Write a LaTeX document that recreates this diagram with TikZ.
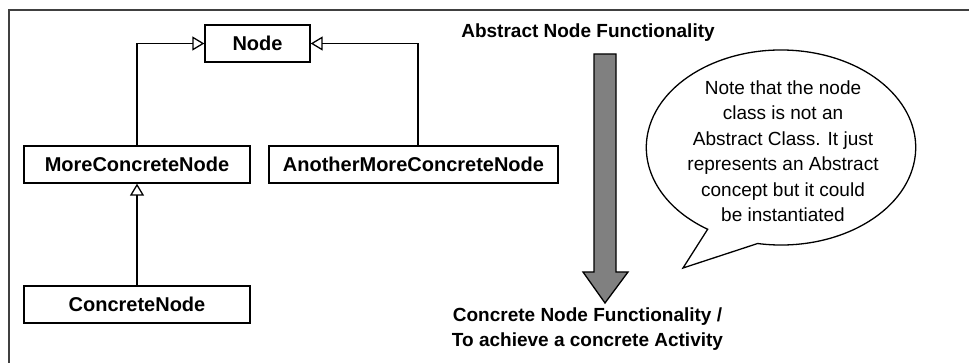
\documentclass[tikz,border=0pt]{standalone}
\usepackage{fontspec}
\setmainfont{Liberation Sans}
\usetikzlibrary{arrows.meta}
\begin{document}
\begin{tikzpicture}[x=1pt,y=-1pt,
  cls/.style={draw=black,line width=1.3pt,fill=white,inner sep=0pt,minimum height=37pt,font=\fontsize{20}{22}\selectfont\bfseries},
  inh/.style={draw=black,line width=1.3pt,-{Triangle[open,length=12pt,width=14pt,line width=1.3pt]}},
  lbl/.style={font=\fontsize{19}{25}\selectfont\bfseries,align=center,inner sep=0pt},
  note/.style={font=\fontsize{19}{25.5}\selectfont,align=center,inner sep=0pt}]
\useasboundingbox (0,0) rectangle (969,363);
% frame
\draw[line width=2pt,draw=black!75] (9,370) -- (9,10) -- (975,10);
% classes
\node[cls,minimum width=105pt] (node) at (257.5,43.5) {Node};
\node[cls,minimum width=226pt] (mcn) at (137,164.5) {MoreConcreteNode};
\node[cls,minimum width=289pt] (amcn) at (413.5,164.5) {AnotherMoreConcreteNode};
\node[cls,minimum width=226pt] (cn) at (137,304.5) {ConcreteNode};
\draw[inh] (mcn.north) |- (node.west);
\draw[inh] ([xshift=4.5pt]amcn.north) |- (node.east);
\draw[inh] (cn.north) -- (mcn.south);
% labels
\node[lbl] (abs) at (588,33) {Abstract Node Functionality};
\node[lbl] (con) at (587.5,329.5) {Concrete Node Functionality /\\To achieve a concrete Activity};
% big arrow
\draw[line width=1.3pt,fill=black!50] (594,54) -- (616,54) -- (616,272) -- (628,272) -- (605,303) -- (583,272) -- (594,272) -- cycle;
% callout
\coordinate (cc) at (781,147.5);
\coordinate (tip) at (683,268);
\draw[line width=1.3pt,fill=white] (cc) ++(-100:134.7 and -97.5) arc[start angle=-100,end angle=237,x radius=134.7,y radius=-97.5] -- (tip) -- cycle;
\node[note] (txt) at (783,151) {Note that the node\\class is not an\\Abstract Class. It just\\represents an Abstract\\concept but it could\\be instantiated};
\end{tikzpicture}
\end{document}
